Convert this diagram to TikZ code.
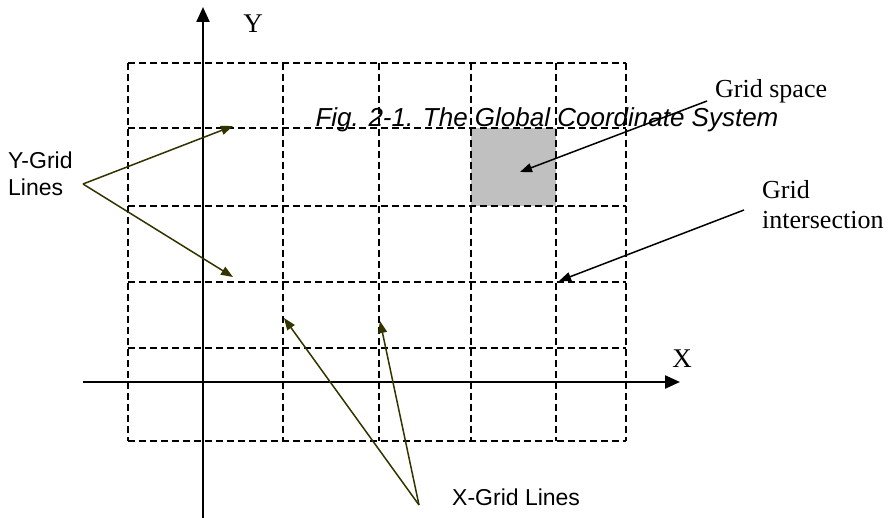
\documentclass[tikz,border=0pt]{standalone}
\usepackage{fontspec}
\setmainfont{Liberation Serif}
\newfontfamily\arialf{Liberation Sans}
\usetikzlibrary{arrows.meta}
\definecolor{olivearrow}{HTML}{333300}
\definecolor{cellgray}{HTML}{C0C0C0}
\tikzset{
  gridline/.style={line width=1.3pt, dash pattern=on 7pt off 4pt},
  axisline/.style={line width=2.3pt, -{Triangle[length=15pt,width=13pt]}},
  olivearr/.style={draw=olivearrow, line width=1.5pt, -{Triangle[length=12pt,width=9pt]}, fill=olivearrow},
  blackarr/.style={draw=black, line width=1.5pt, -{Triangle[length=12pt,width=9pt]}},
  sanslabel/.style={inner sep=0pt, font=\arialf\fontsize{23}{27}\selectfont, align=left},
  seriflabel/.style={inner sep=0pt, font=\fontsize{26}{30}\selectfont, align=left},
  axislabel/.style={inner sep=0pt, font=\fontsize{27}{30}\selectfont}
}
\begin{document}
\begin{tikzpicture}[x=1pt,y=-1pt]
\useasboundingbox (0,0) rectangle (892,518);
% shaded grid space
\fill[cellgray] (471,128) rectangle (556,206);
% grid
\foreach \yy in {63,128,206,282,348,441} {\draw[gridline] (128,\yy) -- (626,\yy);}
\foreach \xx in {128,283,379,471,556,626} {\draw[gridline] (\xx,63) -- (\xx,441);}
% axes
\coordinate (yaxb) at (203,518);
\coordinate (yaxt) at (203,7);
\coordinate (xaxl) at (83,382);
\coordinate (xaxr) at (680,382);
\draw[axisline] (yaxb) -- (yaxt);
\draw[axisline] (xaxl) -- (xaxr);
\node[axislabel, anchor=base] (ylab) at (253,33) {Y};
\node[axislabel, anchor=base] (xlab) at (682,368) {X};
% caption
\node[inner sep=0pt, anchor=base, font=\arialf\itshape\fontsize{26}{30}\selectfont] (cap) at (547,127) {Fig. 2-1. The Global Coordinate System};
% labels
\node[sanslabel, anchor=west] (ygl) at (8,174) {Y-Grid\\Lines};
\node[sanslabel, anchor=base west] (xgl) at (452,505) {X-Grid Lines};
\node[seriflabel, anchor=base west] (gsp) at (715,98) {Grid space};
\node[seriflabel, anchor=west] (gint) at (762,205) {Grid\\intersection};
% arrow points
\coordinate (ygv) at (83,184);
\coordinate (ygt1) at (233,126);
\coordinate (ygt2) at (233,277);
\coordinate (xgv) at (419,505);
\coordinate (xgt1) at (284,318);
\coordinate (xgt2) at (380,321);
\coordinate (gss) at (707,101);
\coordinate (gst) at (520,172);
\coordinate (gis) at (744,210);
\coordinate (git) at (559,281);
\draw[olivearr] (ygv) -- (ygt1);
\draw[olivearr] (ygv) -- (ygt2);
\draw[olivearr] (xgv) -- (xgt1);
\draw[olivearr] (xgv) -- (xgt2);
\draw[blackarr] (gss) -- (gst);
\draw[blackarr] (gis) -- (git);
\end{tikzpicture}
\end{document}
